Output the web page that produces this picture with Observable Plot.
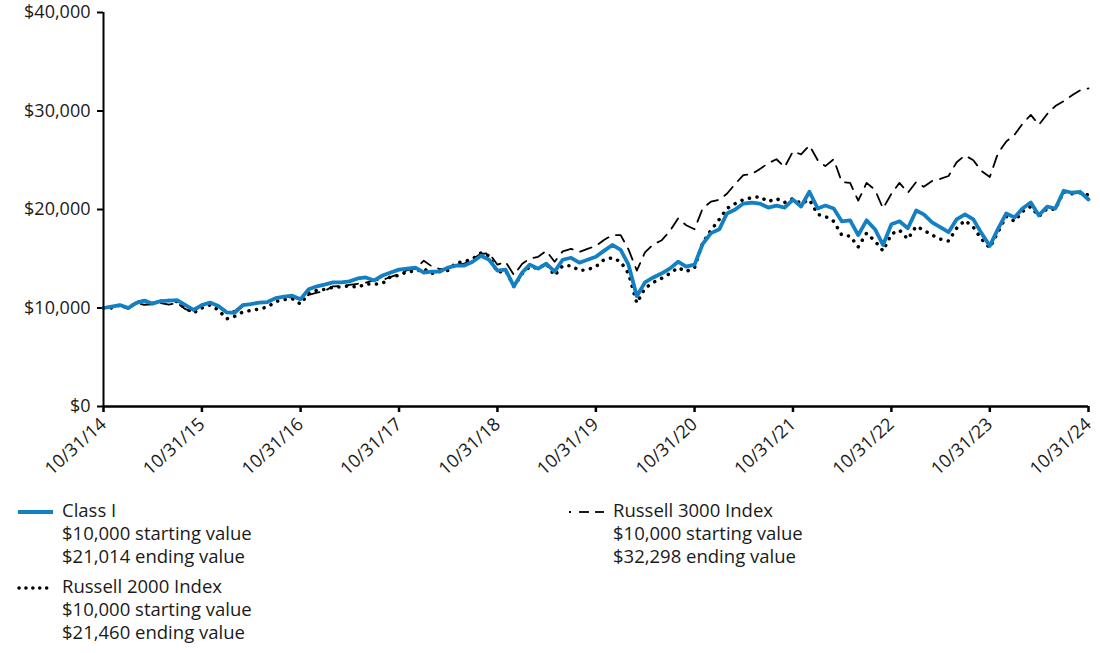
<!DOCTYPE html>
<html>
<head>
<meta charset="utf-8">
<script src="https://cdn.jsdelivr.net/npm/d3@7"></script>
<script src="https://cdn.jsdelivr.net/npm/@observablehq/plot@0.6"></script>
<style>
  body { margin: 0; background: #fff; font-family: "Open Sans", sans-serif; color: #1a1a1a; }
  #wrap { position: relative; width: 1100px; height: 653px; }
  #chart { position: absolute; left: 0; top: 0; }
  #chart svg { overflow: visible; }
  .leg { position: absolute; font-size: 18.5px; line-height: 22.8px; white-space: nowrap; }
  .sw { position: absolute; }
</style>
</head>
<body>
<div id="wrap">
  <div id="chart"></div>
  <svg class="sw" style="left:14px;top:502px" width="44" height="20"><line x1="4" y1="10" x2="39" y2="10" stroke="#1380c3" stroke-width="4"/></svg>
  <div class="leg" style="left:62px;top:499px">Class I<br>$10,000 starting value<br>$21,014 ending value</div>
  <svg class="sw" style="left:14px;top:578px" width="44" height="20"><line x1="5" y1="10" x2="39" y2="10" stroke="#000" stroke-width="3.5" stroke-linecap="round" stroke-dasharray="0.1,6.8"/></svg>
  <div class="leg" style="left:62px;top:575px">Russell 2000 Index<br>$10,000 starting value<br>$21,460 ending value</div>
  <svg class="sw" style="left:564px;top:502px" width="44" height="20"><line x1="5" y1="10" x2="7" y2="10" stroke="#000" stroke-width="1.8"/><line x1="15" y1="10" x2="25" y2="10" stroke="#000" stroke-width="1.8"/><line x1="31" y1="10" x2="40" y2="10" stroke="#000" stroke-width="1.8"/></svg>
  <div class="leg" style="left:613px;top:499px">Russell 3000 Index<br>$10,000 starting value<br>$32,298 ending value</div>
</div>
<script>
// Monthly month-end values, 10/31/14 .. 10/31/24 (121 points)
const classI = [
  10000, 10150, 10300, 10000, 10500, 10750, 10450, 10700, 10750, 10800,
  10300, 9800, 10300, 10550, 10200, 9550, 9500, 10300, 10400, 10550,
  10600, 11000, 11150, 11250, 10900, 11900, 12200, 12400, 12600, 12600,
  12700, 13000, 13100, 12800, 13300, 13600, 13900, 14000, 14100, 13600,
  13700, 13700, 14100, 14300, 14300, 14700, 15300, 14900, 13800, 13900,
  12200, 13600, 14400, 14000, 14500, 13700, 14900, 15100, 14600, 14900,
  15200, 15800, 16400, 15900, 14400, 11200, 12600, 13100, 13500, 14000,
  14700, 14200, 14400, 16500, 17600, 18000, 19600, 20000, 20600, 20700,
  20600, 20200, 20400, 20200, 21000, 20300, 21800, 20100, 20400, 20100,
  18800, 18900, 17400, 18900, 18000, 16400, 18500, 18800, 18100, 19900,
  19500, 18700, 18200, 17700, 19000, 19500, 19000, 17600, 16300, 18000,
  19600, 19200, 20100, 20700, 19400, 20300, 20100, 21900, 21700, 21800,
  21014
];
const russell2000 = [
  10000, 10000, 10300, 9970, 10560, 10740, 10460, 10690, 10770, 10640,
  9970, 9500, 10000, 10300, 9800, 8900, 9150, 9600, 9750, 9900,
  10100, 10650, 10850, 10950, 10400, 11500, 11800, 11900, 12100, 12150,
  12250, 12100, 12450, 12400, 12500, 13200, 13300, 13700, 13700, 14000,
  13500, 13700, 13800, 14600, 14700, 15000, 15600, 15300, 13600, 13800,
  12200, 13500, 14200, 14000, 14500, 13300, 14300, 14300, 13800, 13900,
  14200, 14900, 15100, 14700, 13500, 10500, 12000, 12600, 13000, 13500,
  14100, 13700, 14100, 16600, 17900, 19000, 20100, 20600, 21000, 21200,
  21300, 20800, 21100, 20700, 21100, 20600, 21000, 19500, 19300, 18800,
  17400, 17300, 16200, 17600, 16800, 15800, 17500, 17900, 17000, 18300,
  17900, 17400, 17000, 16800, 18100, 18900, 18200, 17000, 16100, 17700,
  19300, 18800, 19800, 20300, 19300, 20100, 20000, 21800, 21600, 21700,
  21460
];
const russell3000 = [
  10000, 10200, 10190, 9910, 10470, 10330, 10380, 10510, 10340, 10510,
  9880, 9600, 10380, 10440, 10240, 9680, 9680, 10370, 10430, 10620,
  10650, 11050, 11070, 11080, 10840, 11330, 11550, 11770, 12200, 12210,
  12340, 12460, 12580, 12820, 12840, 13150, 13440, 13840, 13980, 14800,
  14250, 13950, 14000, 14400, 14500, 15000, 15500, 15550, 14400, 14700,
  13350, 14500, 15000, 15200, 15800, 14700, 15750, 16000, 15700, 16000,
  16300, 16900, 17400, 17400, 15950, 13800, 15650, 16450, 16850, 17800,
  19100, 18400, 18000, 20100, 20800, 21000, 21600, 22600, 23500, 23600,
  24100, 24700, 25100, 24300, 25900, 25600, 26500, 25000, 24400, 25100,
  22800, 22700, 20900, 22700, 22000, 20100, 21600, 22700, 21700, 22800,
  22300, 22900, 23100, 23400, 24800, 25500, 25000, 23900, 23300, 25700,
  26900, 27600, 28700, 29600, 28600, 29700, 30500, 31000, 31600, 32100,
  32298
];
const tickLabels = ["10/31/14","10/31/15","10/31/16","10/31/17","10/31/18","10/31/19","10/31/20","10/31/21","10/31/22","10/31/23","10/31/24"];
const yTicks = [0, 10000, 20000, 30000, 40000];

const monthEnd = m => new Date(Date.UTC(2014, 10 + m, 0));
const parseLabel = s => { const [mo, d, y] = s.split("/").map(Number); return new Date(Date.UTC(2000 + y, mo - 1, d)); };
const tickDates = tickLabels.map(parseLabel);

const rows = (arr, name) => arr.map((v, i) => ({date: monthEnd(i), value: v, series: name}));
const dClass = rows(classI, "Class I");
const d2000 = rows(russell2000, "Russell 2000 Index");
const d3000 = rows(russell3000, "Russell 3000 Index");

const fmt = d3.format(",");
const chart = Plot.plot({
  width: 1100,
  height: 492,
  marginLeft: 103,
  marginRight: 12,
  marginTop: 12,
  marginBottom: 86,
  style: {fontFamily: "Open Sans, sans-serif", fontSize: "18px", color: "#1a1a1a", background: "transparent", overflow: "visible"},
  x: {type: "utc", domain: [tickDates[0], tickDates[tickDates.length - 1]]},
  y: {domain: [0, 40000]},
  marks: [
    Plot.axisY({ticks: yTicks, tickFormat: d => "$" + fmt(d), tickSize: 6, tickPadding: 7, label: null, stroke: "#000", strokeWidth: 2, fontSize: 18}),
    Plot.axisX({ticks: tickDates, tickFormat: d => tickLabels[tickDates.findIndex(t => +t === +d)], tickSize: 6, tickPadding: 9, tickRotate: -42, label: null, stroke: "#000", strokeWidth: 2.5, fontSize: 18}),
    Plot.line(d3000, {x: "date", y: "value", stroke: "#000", strokeWidth: 1.8, strokeDasharray: "12,8"}),
    Plot.line(d2000, {x: "date", y: "value", stroke: "#000", strokeWidth: 3.5, strokeLinecap: "round", strokeDasharray: "0.1,7.6"}),
    Plot.line(dClass, {x: "date", y: "value", stroke: "#1380c3", strokeWidth: 3.8, strokeLinejoin: "round"}),
    Plot.ruleX([tickDates[0]], {stroke: "#000", strokeWidth: 2}),
    Plot.ruleY([0], {stroke: "#000", strokeWidth: 2.5})
  ]
});
document.getElementById("chart").appendChild(chart);
</script>
</body>
</html>
